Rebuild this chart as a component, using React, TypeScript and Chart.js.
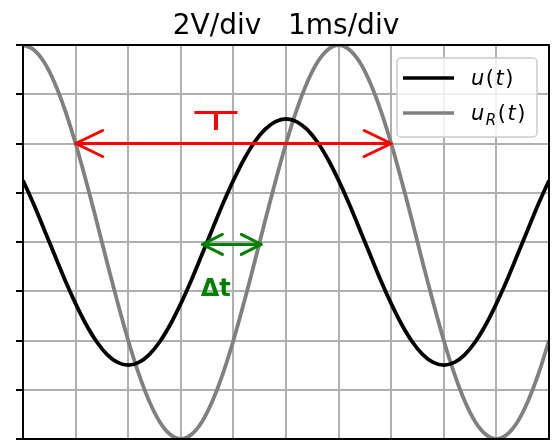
import { useEffect, useRef } from "react";
import { Chart, registerables } from "chart.js";

Chart.register(...registerables);

// ---- data ----
const timeMs = [
  0, 0.2, 0.4, 0.6, 0.8, 1.0, 1.2, 1.4, 1.6, 1.8,
  2.0, 2.2, 2.4, 2.6, 2.8, 3.0, 3.2, 3.4, 3.6, 3.8,
  4.0, 4.2, 4.4, 4.6, 4.8, 5.0, 5.2, 5.4, 5.6, 5.8,
  6.0, 6.2, 6.4, 6.6, 6.8, 7.0, 7.2, 7.4, 7.6, 7.8,
  8.0, 8.2, 8.4, 8.6, 8.8, 9.0, 9.2, 9.4, 9.6, 9.8, 10.0,
];
const uValues = [
  2.5, 1.55, 0.52, -0.52, -1.55, -2.5, -3.35, -4.05, -4.57, -4.89,
  -5.0, -4.89, -4.57, -4.05, -3.35, -2.5, -1.55, -0.52, 0.52, 1.55,
  2.5, 3.35, 4.05, 4.57, 4.89, 5.0, 4.89, 4.57, 4.05, 3.35,
  2.5, 1.55, 0.52, -0.52, -1.55, -2.5, -3.35, -4.05, -4.57, -4.89,
  -5.0, -4.89, -4.57, -4.05, -3.35, -2.5, -1.55, -0.52, 0.52, 1.55, 2.5,
];
const uRValues = [
  8.0, 7.82, 7.31, 6.47, 5.35, 4.0, 2.47, 0.84, -0.84, -2.47,
  -4.0, -5.35, -6.47, -7.31, -7.82, -8.0, -7.82, -7.31, -6.47, -5.35,
  -4.0, -2.47, -0.84, 0.84, 2.47, 4.0, 5.35, 6.47, 7.31, 7.82,
  8.0, 7.82, 7.31, 6.47, 5.35, 4.0, 2.47, 0.84, -0.84, -2.47,
  -4.0, -5.35, -6.47, -7.31, -7.82, -8.0, -7.82, -7.31, -6.47, -5.35, -4.0,
];
const xRange = [0, 10];
const yRange = [-8, 8];
const xStep = 1;
const yStep = 2;
const titleText = "2V/div   1ms/div";
const periodArrowT = [1.0, 7.0];
const periodArrowV = 4.0;
const periodLabel = "T";
const deltaArrowT = [3.41, 4.53];
const deltaArrowV = -0.1;
const deltaLabel = "Δt";

const FONT = "'DejaVu Sans', sans-serif";

function drawDoubleArrow(ctx: CanvasRenderingContext2D, x0: number, x1: number, y: number, color: string, lw: number, hl: number, hh: number) {
  ctx.save();
  ctx.strokeStyle = color;
  ctx.lineWidth = lw;
  ctx.lineCap = "round";
  ctx.lineJoin = "round";
  ctx.beginPath();
  ctx.moveTo(x0, y);
  ctx.lineTo(x1, y);
  ctx.moveTo(x0 + hl, y - hh);
  ctx.lineTo(x0, y);
  ctx.lineTo(x0 + hl, y + hh);
  ctx.moveTo(x1 - hl, y - hh);
  ctx.lineTo(x1, y);
  ctx.lineTo(x1 - hl, y + hh);
  ctx.stroke();
  ctx.restore();
}

const annotationPlugin = {
  id: "scopeAnnotations",
  afterDatasetsDraw(chart: any) {
    const ctx: CanvasRenderingContext2D = chart.ctx;
    const xs = chart.scales.x;
    const ys = chart.scales.y;
    // red period arrow
    drawDoubleArrow(ctx, xs.getPixelForValue(periodArrowT[0]), xs.getPixelForValue(periodArrowT[1]), ys.getPixelForValue(periodArrowV), "#ff0000", 3, 27, 13);
    // green delta arrow
    drawDoubleArrow(ctx, xs.getPixelForValue(deltaArrowT[0]), xs.getPixelForValue(deltaArrowT[1]), ys.getPixelForValue(deltaArrowV), "#008000", 3, 20, 10);

    // period label (handwritten-looking wide T)
    ctx.save();
    ctx.fillStyle = "#ff0000";
    ctx.textAlign = "center";
    ctx.textBaseline = "alphabetic";
    ctx.font = `200 23px ${FONT}`;
    const tx = xs.getPixelForValue(3.67);
    const ty = ys.getPixelForValue(4.62);
    ctx.translate(tx, ty);
    ctx.scale(3.3, 1);
    for (const dy of [-0.5, 0.5, 1.3]) ctx.fillText(periodLabel, 0, dy);
    ctx.restore();

    ctx.save();
    ctx.fillStyle = "#008000";
    ctx.textAlign = "left";
    ctx.textBaseline = "alphabetic";
    ctx.font = `bold 24px ${FONT}`;
    ctx.fillText(deltaLabel, xs.getPixelForValue(3.38), ys.getPixelForValue(-2.2));
    ctx.restore();

    // frame (spines)
    const a = chart.chartArea;
    ctx.save();
    ctx.strokeStyle = "#000000";
    ctx.lineWidth = 2;
    ctx.strokeRect(a.left, a.top, a.right - a.left, a.bottom - a.top);
    ctx.restore();

    // legend
    drawLegend(ctx, a);
  },
};

type Part = { t: string; italic?: boolean; sub?: boolean };

function drawParts(ctx: CanvasRenderingContext2D, parts: Part[], x: number, y: number, size: number, gap: number) {
  let cx = x;
  for (const p of parts) {
    const s = p.sub ? Math.round(size * 0.7) : size;
    ctx.font = `${p.italic ? "italic " : ""}${s}px ${FONT}`;
    const dy = p.sub ? size * 0.22 : 0;
    ctx.fillText(p.t, cx, y + dy);
    cx += ctx.measureText(p.t).width + gap;
  }
}

function drawLegend(ctx: CanvasRenderingContext2D, a: any) {
  const bx = a.right - 152;
  const by = a.top + 13;
  const bw = 140;
  const bh = 79;
  ctx.save();
  ctx.beginPath();
  (ctx as any).roundRect(bx, by, bw, bh, 4);
  ctx.fillStyle = "rgba(255,255,255,0.8)";
  ctx.fill();
  ctx.strokeStyle = "#cccccc";
  ctx.lineWidth = 1.5;
  ctx.stroke();

  const rows = [
    { color: "#000000", lw: 3.5, y: by + 20, parts: [{ t: "u", italic: true }, { t: "(" }, { t: "t", italic: true }, { t: ")" }] as Part[] },
    { color: "#808080", lw: 3.5, y: by + 55, parts: [{ t: "u", italic: true }, { t: "R", italic: true, sub: true }, { t: "(" }, { t: "t", italic: true }, { t: ")" }] as Part[] },
  ];
  for (const r of rows) {
    ctx.beginPath();
    ctx.strokeStyle = r.color;
    ctx.lineWidth = r.lw;
    ctx.moveTo(bx + 6, r.y);
    ctx.lineTo(bx + 57, r.y);
    ctx.stroke();
    ctx.fillStyle = "#000000";
    ctx.textAlign = "left";
    ctx.textBaseline = "alphabetic";
    drawParts(ctx, r.parts, bx + 74, r.y + 7, 21, 1.5);
  }
  ctx.restore();
}

export default function App() {
  const canvasRef = useRef<HTMLCanvasElement | null>(null);

  useEffect(() => {
    const canvas = canvasRef.current;
    if (!canvas) return;
    const chart = new Chart(canvas, {
      type: "line",
      data: {
        datasets: [
          {
            label: "u(t)",
            data: timeMs.map((t, i) => ({ x: t, y: uValues[i] })),
            borderColor: "#000000",
            borderWidth: 3.8,
            pointRadius: 0,
            tension: 0.3,
            fill: false,
          },
          {
            label: "u_R(t)",
            data: timeMs.map((t, i) => ({ x: t, y: uRValues[i] })),
            borderColor: "#808080",
            borderWidth: 3.8,
            pointRadius: 0,
            tension: 0.3,
            fill: false,
          },
        ],
      },
      options: {
        animation: false,
        responsive: false,
        maintainAspectRatio: false,
        devicePixelRatio: 1,
        layout: { padding: { left: 16, right: 9, top: 0, bottom: 2 } },
        plugins: {
          legend: { display: false },
          tooltip: { enabled: false },
          title: {
            display: true,
            text: titleText,
            fullSize: false,
            color: "#000000",
            font: { family: "DejaVu Sans", size: 28, weight: "normal", lineHeight: 1.2 },
            padding: { top: 10, bottom: 1.4 },
          },
        },
        scales: {
          x: {
            type: "linear",
            min: xRange[0],
            max: xRange[1],
            ticks: { display: false, stepSize: xStep },
            grid: { color: "#b0b0b0", lineWidth: 2, drawTicks: false },
            border: { display: false },
          },
          y: {
            type: "linear",
            min: yRange[0],
            max: yRange[1],
            ticks: { display: false, stepSize: yStep },
            grid: { color: "#b0b0b0", lineWidth: 2, drawTicks: true, tickLength: 7, tickColor: "#000000", tickWidth: 2 },
            border: { display: false },
          },
        },
      },
      plugins: [annotationPlugin],
    });
    return () => chart.destroy();
  }, []);

  return (
    <div style={{ position: "fixed", left: 0, top: 0, width: 558, height: 441, background: "#ffffff" }}>
      <canvas ref={canvasRef} width={558} height={441} style={{ display: "block" }} />
    </div>
  );
}
